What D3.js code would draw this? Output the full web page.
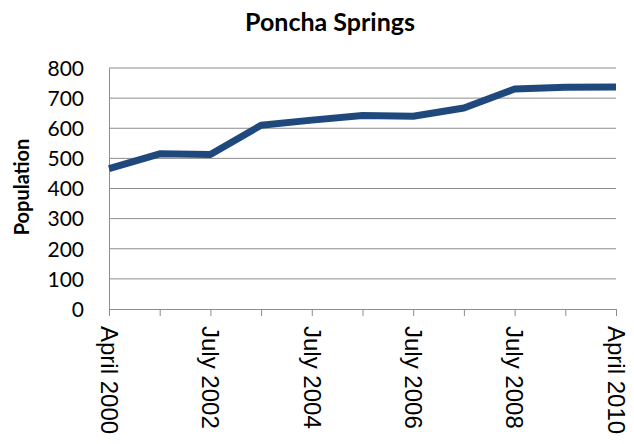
<!DOCTYPE html>
<html>
<head>
<meta charset="utf-8">
<script src="https://cdn.jsdelivr.net/npm/d3@7"></script>
<style>
  body { margin: 0; background: #fff; }
  svg text { font-family: Lato, "Open Sans", sans-serif; fill: #000; }
  svg text.xlab { font-family: "Liberation Sans", Arial, sans-serif; }
</style>
</head>
<body>
<div id="chart"></div>
<script>
var periods = ["April 2000", "July 2001", "July 2002", "July 2003", "July 2004", "July 2005",
  "July 2006", "July 2007", "July 2008", "July 2009", "April 2010"];
var population = [466, 515, 513, 610, 627, 642, 640, 667, 730, 736, 737];
var yTicks = [0, 100, 200, 300, 400, 500, 600, 700, 800];
var labelledPeriods = ["April 2000", "July 2002", "July 2004", "July 2006", "July 2008", "April 2010"];

var width = 634, height = 444;
var margin = {left: 109, right: 18, top: 68, bottom: 135};

var svg = d3.select("#chart").append("svg")
  .attr("width", width)
  .attr("height", height);

var x = d3.scalePoint()
  .domain(periods)
  .range([margin.left, width - margin.right]);

var y = d3.scaleLinear()
  .domain([0, 800])
  .range([height - margin.bottom, margin.top]);

// gridlines
svg.append("g")
  .selectAll("line")
  .data(yTicks.slice(1))
  .enter().append("line")
  .attr("x1", margin.left)
  .attr("x2", width - margin.right)
  .attr("y1", function(d) { return y(d); })
  .attr("y2", function(d) { return y(d); })
  .attr("stroke", "#8c8c8c")
  .attr("stroke-width", 1);

// y axis
var yAxis = svg.append("g")
  .attr("transform", "translate(" + margin.left + ",0)")
  .call(d3.axisLeft(y).tickValues(yTicks).tickSize(0).tickPadding(25));
yAxis.select(".domain").attr("stroke", "#8c8c8c");
yAxis.selectAll("text")
  .style("font-size", "21px")
  .attr("dy", "0.35em");

// x axis, labels on every other tick
var xAxis = svg.append("g")
  .attr("transform", "translate(0," + y(0) + ")")
  .call(d3.axisBottom(x).tickSize(7).tickFormat(function(d) {
    return labelledPeriods.indexOf(d) >= 0 ? d : "";
  }));
xAxis.select(".domain").attr("stroke", "#8c8c8c").attr("d", "M" + margin.left + ",0.5H" + (width - margin.right));
xAxis.selectAll(".tick line").attr("stroke", "#8c8c8c");
xAxis.selectAll("text")
  .attr("class", "xlab")
  .style("font-size", "24px")
  .attr("text-anchor", "start")
  .attr("transform", "rotate(90)")
  .attr("x", 17)
  .attr("y", 0)
  .attr("dy", "0.36em");

// line
var line = d3.line()
  .x(function(d, i) { return x(periods[i]); })
  .y(function(d) { return y(d); });

svg.append("path")
  .datum(population)
  .attr("d", line)
  .attr("fill", "none")
  .attr("stroke", "#1f497d")
  .attr("stroke-width", 7)
  .attr("stroke-linejoin", "round");

// title
svg.append("text")
  .attr("x", 330)
  .attr("y", 31)
  .attr("text-anchor", "middle")
  .style("font-size", "25px")
  .style("font-weight", "bold")
  .text("Poncha Springs");

// y axis title
svg.append("text")
  .attr("transform", "translate(29,187) rotate(-90)")
  .attr("text-anchor", "middle")
  .style("font-size", "20px")
  .style("font-weight", "bold")
  .text("Population");
</script>
</body>
</html>
